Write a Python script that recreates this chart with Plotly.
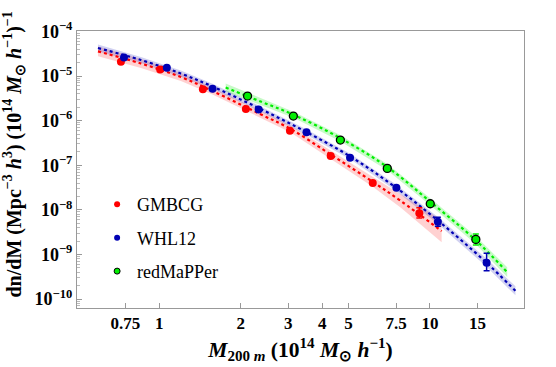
import plotly.graph_objects as go

# ---- datos ----
# puntos medidos (M en 1e14 Msun/h, dn/dM)
gmbcg_m = [0.722, 1.008, 1.45, 2.09, 3.04, 4.30, 6.15, 9.14]
gmbcg_n = [2.09e-5, 1.41e-5, 5.03e-6, 1.82e-6, 5.94e-7, 1.61e-7, 3.99e-8, 8.35e-9]
gmbcg_up = [0, 0, 0, 0, 0, 0, 0, 2.8e-9]
gmbcg_dn = [0, 0, 0, 0, 0, 0, 0, 1.8e-9]

whl_m = [0.741, 1.067, 1.574, 2.33, 3.50, 5.07, 7.52, 10.7, 16.2]
whl_n = [2.62e-5, 1.53e-5, 5.19e-6, 1.79e-6, 5.47e-7, 1.47e-7, 3.13e-8, 5.41e-9, 6.52e-10]
whl_up = [0, 0, 0, 0, 0, 0, 0, 1.4e-9, 4.1e-10]
whl_dn = [0, 0, 0, 0, 0, 0, 0, 1.1e-9, 2.2e-10]

redm_m = [2.12, 3.13, 4.67, 6.96, 10.03, 14.78]
redm_n = [3.56e-6, 1.27e-6, 3.67e-7, 8.51e-8, 1.37e-8, 2.18e-9]
redm_up = [0, 0, 0, 0, 0, 6.8e-10]
redm_dn = [0, 0, 0, 0, 0, 5.5e-10]

# curvas de ajuste y bandas
fit_r_m = [0.594, 0.856, 1.202, 1.574, 2.34, 3.06, 4.30, 6.13, 7.79, 11.05]
fit_r_n = [3.58e-5, 1.91e-5, 9.51e-6, 4.61e-6, 1.44e-6, 6.49e-7, 1.74e-7, 4.32e-8, 1.60e-8, 3.35e-9]
fit_r_hi = [4.61e-5, 2.40e-5, 1.17e-5, 5.54e-6, 1.73e-6, 7.80e-7, 2.14e-7, 5.56e-8, 2.26e-8, 5.96e-9]
fit_r_lo = [2.78e-5, 1.52e-5, 7.73e-6, 3.84e-6, 1.20e-6, 5.40e-7, 1.41e-7, 3.35e-8, 1.13e-8, 1.88e-9]

fit_b_m = [0.594, 0.856, 1.202, 1.574, 2.34, 3.48, 5.10, 7.36, 10.65, 16.05, 20.7]
fit_b_n = [4.25e-5, 2.29e-5, 1.14e-5, 5.82e-6, 1.89e-6, 5.64e-7, 1.55e-7, 3.42e-8, 5.91e-9, 6.85e-10, 1.53e-10]
fit_b_hi = [5.11e-5, 2.69e-5, 1.34e-5, 6.68e-6, 2.17e-6, 6.47e-7, 1.78e-7, 4.02e-8, 7.10e-9, 8.43e-10, 1.93e-10]
fit_b_lo = [3.54e-5, 1.95e-5, 9.70e-6, 5.07e-6, 1.65e-6, 4.91e-7, 1.35e-7, 2.91e-8, 4.92e-9, 5.57e-10, 1.22e-10]

fit_g_m = [1.76, 2.37, 3.15, 4.68, 6.96, 10.06, 14.75, 19.3]
fit_g_n = [5.52e-6, 2.68e-6, 1.34e-6, 4.01e-7, 9.12e-8, 1.50e-8, 2.10e-9, 4.03e-10]
fit_g_hi = [6.79e-6, 3.22e-6, 1.57e-6, 4.71e-7, 1.07e-7, 1.80e-8, 2.58e-9, 5.19e-10]
fit_g_lo = [4.49e-6, 2.23e-6, 1.14e-6, 3.41e-7, 7.76e-8, 1.25e-8, 1.71e-9, 3.13e-10]

x_ticks = [0.75, 1, 2, 3, 4, 5, 7.5, 10, 15]
x_labels = ["0.75", "1", "2", "3", "4", "5", "7.5", "10", "15"]
y_ticks = [1e-10, 1e-9, 1e-8, 1e-7, 1e-6, 1e-5, 1e-4]
y_labels = ["10<sup>−10</sup>", "10<sup>−9</sup>", "10<sup>−8</sup>", "10<sup>−7</sup>",
            "10<sup>−6</sup>", "10<sup>−5</sup>", "10<sup>−4</sup>"]

ROJO = "#ff0000"
AZUL = "#0000b4"
VERDE = "#00ee00"

fig = go.Figure()

# bandas
for m, hi, lo, col in [(fit_r_m, fit_r_hi, fit_r_lo, "rgba(255,0,0,0.18)"),
                       (fit_b_m, fit_b_hi, fit_b_lo, "rgba(0,0,180,0.18)"),
                       (fit_g_m, fit_g_hi, fit_g_lo, "rgba(0,230,0,0.22)")]:
    fig.add_trace(go.Scatter(x=m + m[::-1], y=hi + lo[::-1], fill="toself", fillcolor=col,
                             line=dict(width=0), mode="lines", showlegend=False,
                             hoverinfo="skip"))

# curvas punteadas
for m, n, col in [(fit_r_m, fit_r_n, ROJO), (fit_b_m, fit_b_n, AZUL), (fit_g_m, fit_g_n, VERDE)]:
    fig.add_trace(go.Scatter(x=m, y=n, mode="lines", line=dict(color=col, width=2.2, dash="dot", shape="spline"),
                             showlegend=False))

# puntos
fig.add_trace(go.Scatter(x=gmbcg_m, y=gmbcg_n, mode="markers", showlegend=False,
                         marker=dict(color=ROJO, size=8),
                         error_y=dict(type="data", array=gmbcg_up, arrayminus=gmbcg_dn, color=ROJO, thickness=1.5, width=3)))
fig.add_trace(go.Scatter(x=whl_m, y=whl_n, mode="markers", showlegend=False,
                         marker=dict(color=AZUL, size=8),
                         error_y=dict(type="data", array=whl_up, arrayminus=whl_dn, color=AZUL, thickness=1.5, width=3)))
fig.add_trace(go.Scatter(x=redm_m, y=redm_n, mode="markers", showlegend=False,
                         marker=dict(color=VERDE, size=8, line=dict(color="black", width=1.3)),
                         error_y=dict(type="data", array=redm_up, arrayminus=redm_dn, color=VERDE, thickness=1.5, width=3)))

# leyenda (marcadores más pequeños, como en la figura original)
for nombre, col, borde, g in [("GMBCG", ROJO, None, "a"), ("WHL12", AZUL, None, "b"),
                              ("redMaPPer", VERDE, "black", "c")]:
    fig.add_trace(go.Scatter(x=[None], y=[None], mode="markers", name=nombre, legendgroup=g,
                             marker=dict(color=col, size=6,
                                         line=dict(color=borde or col, width=1 if borde else 0))))

FUENTE = "Liberation Serif"

fig.update_layout(
    width=556, height=367,
    margin=dict(l=77, r=32, t=31, b=59),
    plot_bgcolor="white", paper_bgcolor="white",
    font=dict(family=FUENTE, color="black"),
    showlegend=True,
    legend=dict(x=0.045, y=0.44, xanchor="left", yanchor="top", font=dict(size=18, family=FUENTE),
                tracegroupgap=7, bgcolor="rgba(0,0,0,0)", itemwidth=30),
    xaxis=dict(type="log", range=[-0.3037, 1.3476], tickvals=x_ticks, automargin=False,
               ticktext=["<b>" + t + "</b>" for t in x_labels],
               tickfont=dict(size=17), ticks="inside", ticklen=5, tickcolor="#999",
               showline=True, linecolor="#999", mirror=True, showgrid=False, zeroline=False,
               title=dict(text="<b><i>M</i><sub>200 <i>m</i></sub> (10<sup>14</sup> <i>M</i><sub>⊙</sub> <i>h</i><sup>−1</sup>)</b>",
                          font=dict(size=21.5), standoff=9)),
    yaxis=dict(type="log", range=[-10.2, -3.99], tickvals=y_ticks, automargin=False,
               ticktext=["<b>" + t + "</b>" for t in y_labels],
               tickfont=dict(size=18), ticks="inside", ticklen=5, tickcolor="#999",
               minor=dict(ticks="inside", ticklen=3, tickcolor="#bbb", dtick="D1"),
               showline=True, linecolor="#999", mirror=True, showgrid=False, zeroline=False),
)

# título del eje y como anotación, para poder colocarlo donde está en el original
fig.add_annotation(text="<b>dn/dM (Mpc<sup>−3</sup> <i>h</i><sup>3</sup>) (10<sup>14</sup> <i>M</i><sub>⊙</sub> <i>h</i><sup>−1</sup>)<sup>−1</sup></b>",
                   xref="paper", yref="paper", x=-0.141, y=0.554, xanchor="center", yanchor="middle",
                   textangle=-90, showarrow=False, font=dict(size=20))

# quitar el margen del body para que la figura quede en (0,0)
fig.write_html("out.html", config={"displayModeBar": False},
               post_script="document.body.style.margin='0px';")
